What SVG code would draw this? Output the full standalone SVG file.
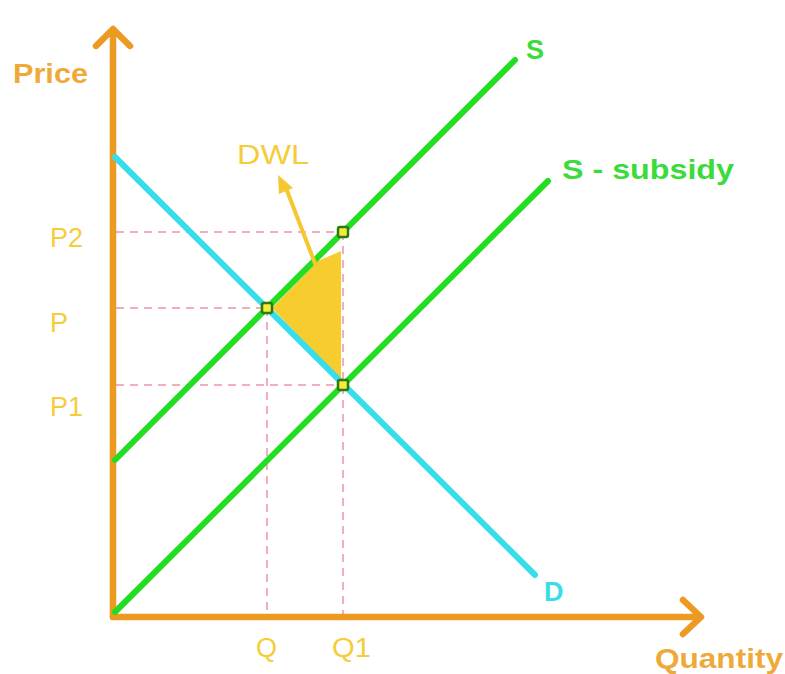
<svg xmlns="http://www.w3.org/2000/svg" width="785" height="674" viewBox="0 0 785 674">
<style>
.axis{stroke:#EC9A22;stroke-width:6.5;fill:none;stroke-linecap:round;stroke-linejoin:round}
.dash{stroke:#F2AEBE;stroke-width:2;stroke-dasharray:8,6;fill:none}
.sup{stroke:#22DD22;stroke-width:6;fill:none;stroke-linecap:round}
.dem{stroke:#38DDEA;stroke-width:6;fill:none;stroke-linecap:round}
.pt{fill:#F4EE3A;stroke:#2E7A12;stroke-width:2.5}
.t{font-family:"Liberation Sans",Arial,sans-serif;font-size:27px}
.lab{fill:#F5CC3A}
</style>
<rect width="785" height="674" fill="#ffffff"/>
<g id="guides">
<path class="dash" d="M116 232H343M116 308H267M116 385H343M267 308V614M343 232V614"/>
</g>
<g id="dwl-area">
<polygon points="272,308 318,261 341,251 341,380" fill="#F7CC2E"/>
</g>
<g id="axes">
<path class="axis" d="M113 617V30M96 46L113 29L130 46"/>
<path class="axis" d="M113 617H700M683 600L701 617L683 634"/>
</g>
<g id="connectors">
<line class="sup" x1="115" y1="460" x2="515" y2="60"/>
<line class="sup" x1="115" y1="612" x2="548" y2="181"/>
<line class="dem" x1="115" y1="157" x2="535" y2="575"/>
<path d="M316 266L286 188" stroke="#F5C830" stroke-width="4" fill="none"/>
<polygon points="278,175 279,194 293,188" fill="#F5C830"/>
</g>
<g id="points">
<rect class="pt" x="262" y="303" width="10" height="10" rx="2"/>
<rect class="pt" x="338" y="227" width="10" height="10" rx="2"/>
<rect class="pt" x="338" y="380" width="10" height="10" rx="2"/>
</g>
<g id="labels">
<text class="t" x="13" y="83" fill="#EFA93A" font-weight="bold" textLength="75" lengthAdjust="spacingAndGlyphs">Price</text>
<text class="t" x="526" y="59" fill="#3BDB3B" font-weight="bold" font-size="30">S</text>
<text class="t" x="562" y="179" fill="#3BDB3B" font-weight="bold" font-size="28" textLength="172" lengthAdjust="spacingAndGlyphs">S - subsidy</text>
<text class="t lab" x="237" y="164" textLength="72" lengthAdjust="spacingAndGlyphs">DWL</text>
<text class="t lab" x="50" y="247">P2</text>
<text class="t lab" x="50" y="332">P</text>
<text class="t lab" x="50" y="416">P1</text>
<text class="t lab" x="256" y="657">Q</text>
<text class="t lab" x="332" y="657" textLength="39" lengthAdjust="spacingAndGlyphs">Q1</text>
<text class="t" x="544" y="601" fill="#38DDEA" font-weight="bold">D</text>
<text class="t" x="655" y="668" fill="#EFA93A" font-weight="bold" font-size="28" textLength="128" lengthAdjust="spacingAndGlyphs">Quantity</text>
</g>
</svg>
